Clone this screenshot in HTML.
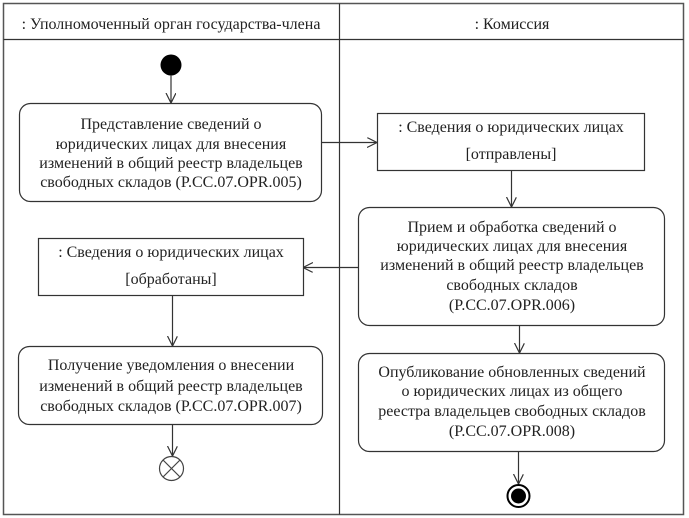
<!DOCTYPE html>
<html><head><meta charset="utf-8">
<style>
html,body{margin:0;padding:0;background:#fff;}
body{position:relative;width:689px;height:518px;overflow:hidden;}
svg{display:block;position:absolute;left:0;top:0;}
.t{position:absolute;width:400px;text-align:center;white-space:nowrap;font-family:"Liberation Serif","Times New Roman",Times,"DejaVu Serif","Noto Serif CJK SC",serif;font-size:16px;line-height:20px;height:20px;color:#222;}
</style></head>
<body>
<svg width="689" height="518" viewBox="0 0 689 518" xmlns="http://www.w3.org/2000/svg">
<defs>
<marker id="a" markerWidth="12" markerHeight="12" refX="10" refY="5" orient="auto" markerUnits="userSpaceOnUse">
<path d="M0,0 L10,5 L0,10" fill="none" stroke="#333" stroke-width="1.2"/>
</marker>
</defs>
<rect x="3.5" y="3.5" width="680" height="511" fill="none" stroke="#555" stroke-width="1.5"/>
<line x1="3.5" y1="39.5" x2="683.5" y2="39.5" stroke="#333" stroke-width="1.2"/>
<line x1="339.5" y1="3.5" x2="339.5" y2="514.5" stroke="#333" stroke-width="1.2"/>

<circle cx="171" cy="65" r="10.5" fill="#000"/>
<line x1="171" y1="75" x2="171" y2="103" stroke="#333" stroke-width="1.2" marker-end="url(#a)"/>

<rect x="19.5" y="103.5" width="302" height="98" rx="11" fill="#fff" stroke="#333" stroke-width="1.2"/>
<line x1="322" y1="142.5" x2="377" y2="142.5" stroke="#333" stroke-width="1.2" marker-end="url(#a)"/>
<rect x="377.5" y="113.5" width="267" height="57" fill="#fff" stroke="#333" stroke-width="1.2"/>
<line x1="511.5" y1="171" x2="511.5" y2="207" stroke="#333" stroke-width="1.2" marker-end="url(#a)"/>
<rect x="358.5" y="207.5" width="306" height="118" rx="11" fill="#fff" stroke="#333" stroke-width="1.2"/>
<line x1="358" y1="267.5" x2="303" y2="267.5" stroke="#333" stroke-width="1.2" marker-end="url(#a)"/>
<rect x="38.5" y="238.5" width="265" height="57" fill="#fff" stroke="#333" stroke-width="1.2"/>
<line x1="172.5" y1="296" x2="172.5" y2="346" stroke="#333" stroke-width="1.2" marker-end="url(#a)"/>
<rect x="18.5" y="346.5" width="304" height="78" rx="11" fill="#fff" stroke="#333" stroke-width="1.2"/>
<line x1="172.5" y1="425" x2="172.5" y2="456" stroke="#333" stroke-width="1.2" marker-end="url(#a)"/>
<circle cx="171.5" cy="468.5" r="12" fill="#fff" stroke="#444" stroke-width="1.2"/>
<line x1="163" y1="460" x2="180" y2="477" stroke="#444" stroke-width="1.2"/>
<line x1="180" y1="460" x2="163" y2="477" stroke="#444" stroke-width="1.2"/>
<line x1="519.5" y1="326" x2="519.5" y2="353" stroke="#333" stroke-width="1.2" marker-end="url(#a)"/>
<rect x="358.5" y="353.5" width="306" height="98" rx="11" fill="#fff" stroke="#333" stroke-width="1.2"/>
<line x1="518.5" y1="452" x2="518.5" y2="484" stroke="#333" stroke-width="1.2" marker-end="url(#a)"/>
<circle cx="518.5" cy="496" r="11" fill="#fff" stroke="#000" stroke-width="2"/>
<circle cx="518.5" cy="496" r="7.5" fill="#000"/>
</svg>

<div class="t" style="left:-29px;top:15px">: Уполномоченный орган государства-члена</div>
<div class="t" style="left:312px;top:15px">: Комиссия</div>

<div class="t" style="left:-29px;top:115px">Представление сведений о</div>
<div class="t" style="left:-29px;top:135px">юридических лицах для внесения</div>
<div class="t" style="left:-29px;top:154px">изменений в общий реестр владельцев</div>
<div class="t" style="left:-29px;top:173px">свободных складов (P.CC.07.OPR.005)</div>

<div class="t" style="left:311px;top:118px">: Сведения о юридических лицах</div>
<div class="t" style="left:311px;top:145px">[отправлены]</div>

<div class="t" style="left:312px;top:218px">Прием и обработка сведений о</div>
<div class="t" style="left:312px;top:237px">юридических лицах для внесения</div>
<div class="t" style="left:312px;top:256px">изменений в общий реестр владельцев</div>
<div class="t" style="left:312px;top:276px">свободных складов</div>
<div class="t" style="left:312px;top:296px">(P.CC.07.OPR.006)</div>

<div class="t" style="left:-29px;top:243px">: Сведения о юридических лицах</div>
<div class="t" style="left:-29px;top:270px">[обработаны]</div>

<div class="t" style="left:-29px;top:356px">Получение уведомления о внесении</div>
<div class="t" style="left:-29px;top:377px">изменений в общий реестр владельцев</div>
<div class="t" style="left:-29px;top:397px">свободных складов (P.CC.07.OPR.007)</div>

<div class="t" style="left:312px;top:363px">Опубликование обновленных сведений</div>
<div class="t" style="left:312px;top:382px">о юридических лицах из общего</div>
<div class="t" style="left:312px;top:402px">реестра владельцев свободных складов</div>
<div class="t" style="left:312px;top:422px">(P.CC.07.OPR.008)</div>
</body></html>
